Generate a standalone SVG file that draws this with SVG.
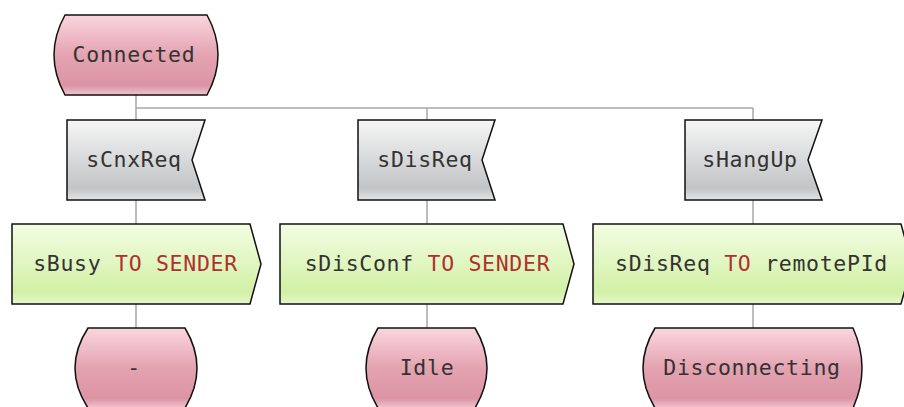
<svg xmlns="http://www.w3.org/2000/svg" width="904" height="407" viewBox="0 0 904 407">
  <defs>
    <linearGradient id="gState" x1="0" y1="0" x2="0" y2="1">
      <stop offset="0" stop-color="#fad6de"/>
      <stop offset="0.5" stop-color="#e4a3b1"/>
      <stop offset="0.88" stop-color="#dc94a4"/>
      <stop offset="1" stop-color="#f0c4ce"/>
    </linearGradient>
    <linearGradient id="gInput" x1="0" y1="0" x2="0" y2="1">
      <stop offset="0" stop-color="#f6f6f6"/>
      <stop offset="0.85" stop-color="#c2c4c6"/>
      <stop offset="1" stop-color="#e2e4e4"/>
    </linearGradient>
    <linearGradient id="gOutput" x1="0" y1="0" x2="0" y2="1">
      <stop offset="0" stop-color="#f3fde3"/>
      <stop offset="0.85" stop-color="#d2f0a6"/>
      <stop offset="1" stop-color="#e6f8cc"/>
    </linearGradient>
  </defs>
  <style>
    .state { fill: url(#gState); stroke: #111; stroke-width: 1.5; }
    .input { fill: url(#gInput); stroke: #111; stroke-width: 1.5; }
    .output { fill: url(#gOutput); stroke: #111; stroke-width: 1.5; }
    .conn { fill: none; stroke: #a8a8a8; stroke-width: 1.5; }
    text { font-family: "DejaVu Sans Mono", "Liberation Mono", monospace; font-size: 21.5px; letter-spacing: 0.7px; fill: #333; text-anchor: middle; }
    .kw { fill: #b03030; }
  </style>
  <rect width="904" height="407" fill="#ffffff"/>
  <g id="connectors">
    <path class="conn" d="M136,95 V108 H753"/>
    <path class="conn" d="M136,108 V120 M427,108 V120 M753,108 V120"/>
    <path class="conn" d="M136,200 V224 M427,200 V224 M753,200 V224"/>
    <path class="conn" d="M136,304 V328 M427,304 V328 M753,304 V328"/>
  </g>
  <g id="state-connected">
    <path class="state" d="M65,15 L207,15 Q229,55 207,95 L65,95 Q43,55 65,15 Z"/>
    <text x="134" y="62">Connected</text>
  </g>
  <g id="input-scnxreq">
    <path class="input" d="M67,120 L205,120 L192,160 L205,200 L67,200 Z"/>
    <text x="134" y="167">sCnxReq</text>
  </g>
  <g id="input-sdisreq">
    <path class="input" d="M358,120 L495,120 L482,160 L495,200 L358,200 Z"/>
    <text x="425" y="167">sDisReq</text>
  </g>
  <g id="input-shangup">
    <path class="input" d="M685,120 L822,120 L808,160 L822,200 L685,200 Z"/>
    <text x="750" y="167">sHangUp</text>
  </g>
  <g id="output-sbusy">
    <path class="output" d="M12,224 L250,224 L261,264 L250,304 L12,304 Z"/>
    <text x="135.5" y="271">sBusy <tspan class="kw">TO SENDER</tspan></text>
  </g>
  <g id="output-sdisconf">
    <path class="output" d="M280,224 L563,224 L574,264 L563,304 L280,304 Z"/>
    <text x="427.5" y="271">sDisConf <tspan class="kw">TO SENDER</tspan></text>
  </g>
  <g id="output-sdisreq">
    <path class="output" d="M593,224 L901,224 L912,264 L901,304 L593,304 Z"/>
    <text x="751.5" y="271">sDisReq <tspan class="kw">TO</tspan> remotePId</text>
  </g>
  <g id="state-dash">
    <path class="state" d="M88,328 L185,328 Q209,368 185,408 L88,408 Q62,368 88,328 Z"/>
    <text x="134" y="375">-</text>
  </g>
  <g id="state-idle">
    <path class="state" d="M378,328 L475,328 Q499,368 475,408 L378,408 Q354,368 378,328 Z"/>
    <text x="427" y="375">Idle</text>
  </g>
  <g id="state-disconnecting">
    <path class="state" d="M655,328 L853,328 Q871,368 853,408 L655,408 Q631,368 655,328 Z"/>
    <text x="752" y="375">Disconnecting</text>
  </g>
</svg>
